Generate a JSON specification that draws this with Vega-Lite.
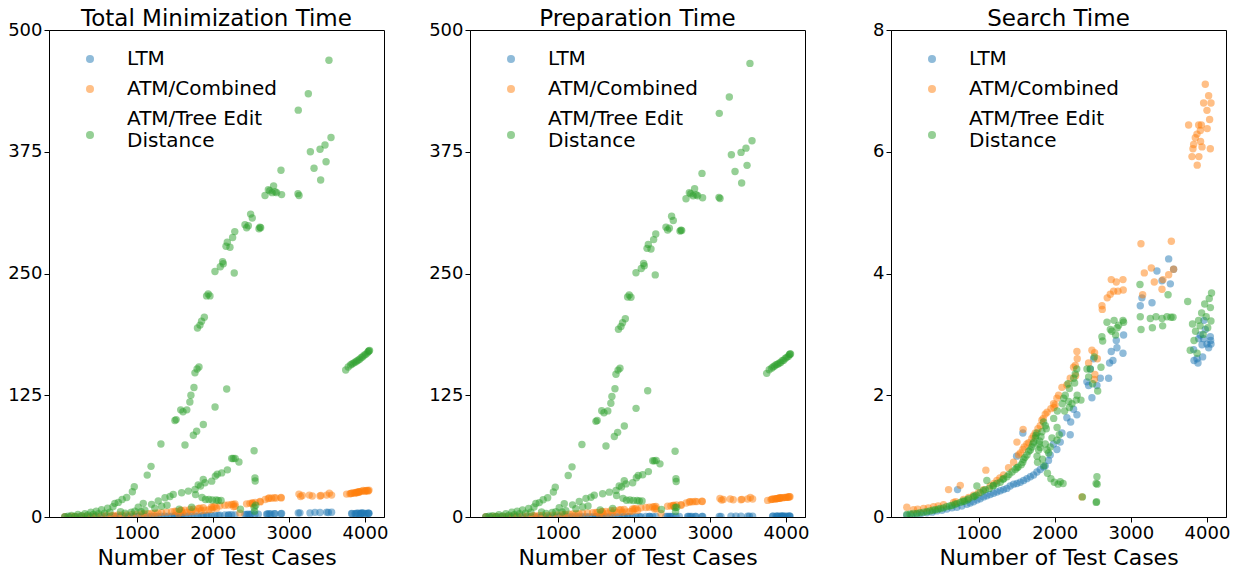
{
  "$schema": "https://vega.github.io/schema/vega-lite/v6.json",
  "background": "white",
  "padding": {"left": 7, "top": 7, "right": 5, "bottom": 1},
  "bounds": "flush",
  "spacing": 86,
  "config": {
    "font": "DejaVu Sans",
    "view": {"stroke": "black", "strokeWidth": 1},
    "axis": {"domainColor": "black", "tickColor": "black", "labelColor": "black", "titleColor": "black", "labelFont": "DejaVu Sans", "titleFont": "DejaVu Sans", "labelFontSize": 18, "titleFontSize": 22, "titleFontWeight": "normal", "tickSize": 5, "labelPadding": 2, "titlePadding": 5, "grid": false, "labelFlush": false},
    "title": {"font": "DejaVu Sans", "fontSize": 23, "fontWeight": "normal", "color": "black", "offset": -9.5, "frame": "group"},
    "legend": {"labelFont": "DejaVu Sans", "labelFontSize": 20, "labelColor": "black", "labelLimit": 400, "symbolSize": 64, "symbolType": "circle", "labelOffset": 27, "rowPadding": 10, "padding": 0}
  },
  "resolve": {"scale": {"y": "independent", "color": "independent"}, "legend": {"color": "independent"}},
  "data": {"values": [
    {"method":"LTM","n":58,"total":0.05,"prep":0.02,"search":0.03},
    {"method":"LTM","n":120,"total":0.07,"prep":0.03,"search":0.04},
    {"method":"LTM","n":190,"total":0.09,"prep":0.04,"search":0.05},
    {"method":"LTM","n":250,"total":0.11,"prep":0.05,"search":0.06},
    {"method":"LTM","n":321,"total":0.13,"prep":0.06,"search":0.07},
    {"method":"LTM","n":390,"total":0.15,"prep":0.07,"search":0.08},
    {"method":"LTM","n":452,"total":0.18,"prep":0.08,"search":0.1},
    {"method":"LTM","n":520,"total":0.2,"prep":0.09,"search":0.11},
    {"method":"LTM","n":584,"total":0.23,"prep":0.1,"search":0.13},
    {"method":"LTM","n":650,"total":0.26,"prep":0.11,"search":0.15},
    {"method":"LTM","n":715,"total":0.28,"prep":0.12,"search":0.16},
    {"method":"LTM","n":724,"total":0.57,"prep":0.12,"search":0.45},
    {"method":"LTM","n":780,"total":0.31,"prep":0.13,"search":0.18},
    {"method":"LTM","n":847,"total":0.35,"prep":0.14,"search":0.21},
    {"method":"LTM","n":890,"total":0.38,"prep":0.15,"search":0.23},
    {"method":"LTM","n":934,"total":0.41,"prep":0.16,"search":0.25},
    {"method":"LTM","n":980,"total":0.45,"prep":0.17,"search":0.28},
    {"method":"LTM","n":1022,"total":0.48,"prep":0.18,"search":0.3},
    {"method":"LTM","n":1066,"total":0.52,"prep":0.19,"search":0.33},
    {"method":"LTM","n":1109,"total":0.55,"prep":0.2,"search":0.35},
    {"method":"LTM","n":1153,"total":0.58,"prep":0.21,"search":0.37},
    {"method":"LTM","n":1197,"total":0.61,"prep":0.22,"search":0.39},
    {"method":"LTM","n":1241,"total":0.64,"prep":0.23,"search":0.41},
    {"method":"LTM","n":1285,"total":0.67,"prep":0.24,"search":0.43},
    {"method":"LTM","n":1329,"total":0.7,"prep":0.25,"search":0.45},
    {"method":"LTM","n":1372,"total":0.73,"prep":0.26,"search":0.47},
    {"method":"LTM","n":1416,"total":0.78,"prep":0.27,"search":0.51},
    {"method":"LTM","n":1460,"total":0.82,"prep":0.28,"search":0.54},
    {"method":"LTM","n":1500,"total":1.29,"prep":0.29,"search":1.0},
    {"method":"LTM","n":1504,"total":0.84,"prep":0.29,"search":0.55},
    {"method":"LTM","n":1548,"total":0.87,"prep":0.3,"search":0.57},
    {"method":"LTM","n":1582,"total":1.69,"prep":0.31,"search":1.38},
    {"method":"LTM","n":1592,"total":0.91,"prep":0.31,"search":0.6},
    {"method":"LTM","n":1635,"total":0.95,"prep":0.32,"search":0.63},
    {"method":"LTM","n":1680,"total":0.99,"prep":0.33,"search":0.66},
    {"method":"LTM","n":1723,"total":1.03,"prep":0.34,"search":0.69},
    {"method":"LTM","n":1767,"total":1.09,"prep":0.35,"search":0.74},
    {"method":"LTM","n":1810,"total":1.14,"prep":0.36,"search":0.78},
    {"method":"LTM","n":1854,"total":1.19,"prep":0.37,"search":0.82},
    {"method":"LTM","n":1876,"total":1.21,"prep":0.37,"search":0.84},
    {"method":"LTM","n":1919,"total":1.31,"prep":0.38,"search":0.93},
    {"method":"LTM","n":1941,"total":1.41,"prep":0.39,"search":1.02},
    {"method":"LTM","n":1985,"total":1.6,"prep":0.4,"search":1.2},
    {"method":"LTM","n":2029,"total":1.52,"prep":0.41,"search":1.11},
    {"method":"LTM","n":2073,"total":1.65,"prep":0.42,"search":1.23},
    {"method":"LTM","n":2095,"total":1.8,"prep":0.42,"search":1.38},
    {"method":"LTM","n":2160,"total":2.07,"prep":0.44,"search":1.63},
    {"method":"LTM","n":2204,"total":1.8,"prep":0.45,"search":1.35},
    {"method":"LTM","n":2210,"total":2.01,"prep":0.45,"search":1.56},
    {"method":"LTM","n":2248,"total":2.23,"prep":0.46,"search":1.77},
    {"method":"LTM","n":2292,"total":2.15,"prep":0.47,"search":1.68},
    {"method":"LTM","n":2423,"total":2.72,"prep":0.5,"search":2.22},
    {"method":"LTM","n":2445,"total":2.66,"prep":0.5,"search":2.16},
    {"method":"LTM","n":2467,"total":2.94,"prep":0.51,"search":2.43},
    {"method":"LTM","n":2489,"total":2.47,"prep":0.51,"search":1.96},
    {"method":"LTM","n":2511,"total":3.12,"prep":0.52,"search":2.6},
    {"method":"LTM","n":2555,"total":2.69,"prep":0.53,"search":2.16},
    {"method":"LTM","n":2599,"total":2.82,"prep":0.54,"search":2.28},
    {"method":"LTM","n":2708,"total":2.85,"prep":0.57,"search":2.28},
    {"method":"LTM","n":2721,"total":3.1,"prep":0.57,"search":2.53},
    {"method":"LTM","n":2743,"total":3.3,"prep":0.58,"search":2.72},
    {"method":"LTM","n":2765,"total":3.15,"prep":0.58,"search":2.57},
    {"method":"LTM","n":2809,"total":3.49,"prep":0.59,"search":2.9},
    {"method":"LTM","n":2818,"total":3.37,"prep":0.59,"search":2.78},
    {"method":"LTM","n":2897,"total":3.3,"prep":0.61,"search":2.69},
    {"method":"LTM","n":2905,"total":3.6,"prep":0.61,"search":2.99},
    {"method":"LTM","n":3124,"total":4.13,"prep":0.66,"search":3.47},
    {"method":"LTM","n":3146,"total":4.27,"prep":0.67,"search":3.6},
    {"method":"LTM","n":3278,"total":4.22,"prep":0.7,"search":3.52},
    {"method":"LTM","n":3343,"total":4.76,"prep":0.72,"search":4.04},
    {"method":"LTM","n":3409,"total":4.61,"prep":0.73,"search":3.88},
    {"method":"LTM","n":3497,"total":4.99,"prep":0.75,"search":4.24},
    {"method":"LTM","n":3519,"total":4.59,"prep":0.76,"search":3.83},
    {"method":"LTM","n":3562,"total":4.84,"prep":0.77,"search":4.07},
    {"method":"LTM","n":3825,"total":3.58,"prep":0.83,"search":2.75},
    {"method":"LTM","n":3830,"total":3.4,"prep":0.83,"search":2.57},
    {"method":"LTM","n":3869,"total":3.44,"prep":0.84,"search":2.6},
    {"method":"LTM","n":3882,"total":3.37,"prep":0.84,"search":2.53},
    {"method":"LTM","n":3891,"total":3.78,"prep":0.85,"search":2.93},
    {"method":"LTM","n":3913,"total":3.84,"prep":0.85,"search":2.99},
    {"method":"LTM","n":3935,"total":3.69,"prep":0.86,"search":2.83},
    {"method":"LTM","n":3943,"total":3.49,"prep":0.86,"search":2.63},
    {"method":"LTM","n":3956,"total":3.79,"prep":0.86,"search":2.93},
    {"method":"LTM","n":3960,"total":4.09,"prep":0.86,"search":3.23},
    {"method":"LTM","n":3978,"total":3.95,"prep":0.87,"search":3.08},
    {"method":"LTM","n":4000,"total":3.71,"prep":0.87,"search":2.84},
    {"method":"LTM","n":4022,"total":3.66,"prep":0.88,"search":2.78},
    {"method":"LTM","n":4044,"total":3.84,"prep":0.88,"search":2.96},
    {"method":"LTM","n":4048,"total":3.78,"prep":0.88,"search":2.9},
    {"method":"LTM","n":4053,"total":3.73,"prep":0.89,"search":2.84},
    {"method":"ATM/Combined","n":58,"total":0.4,"prep":0.24,"search":0.16},
    {"method":"ATM/Combined","n":146,"total":0.5,"prep":0.38,"search":0.12},
    {"method":"ATM/Combined","n":200,"total":0.6,"prep":0.47,"search":0.13},
    {"method":"ATM/Combined","n":278,"total":0.7,"prep":0.56,"search":0.14},
    {"method":"ATM/Combined","n":340,"total":0.8,"prep":0.65,"search":0.15},
    {"method":"ATM/Combined","n":409,"total":0.9,"prep":0.73,"search":0.17},
    {"method":"ATM/Combined","n":470,"total":1.0,"prep":0.82,"search":0.18},
    {"method":"ATM/Combined","n":540,"total":1.1,"prep":0.9,"search":0.2},
    {"method":"ATM/Combined","n":606,"total":1.5,"prep":1.05,"search":0.45},
    {"method":"ATM/Combined","n":672,"total":1.4,"prep":1.16,"search":0.24},
    {"method":"ATM/Combined","n":700,"total":1.5,"prep":1.25,"search":0.25},
    {"method":"ATM/Combined","n":760,"total":2.0,"prep":1.48,"search":0.52},
    {"method":"ATM/Combined","n":803,"total":1.8,"prep":1.51,"search":0.29},
    {"method":"ATM/Combined","n":870,"total":2.0,"prep":1.68,"search":0.32},
    {"method":"ATM/Combined","n":934,"total":2.3,"prep":1.94,"search":0.36},
    {"method":"ATM/Combined","n":1000,"total":2.6,"prep":2.2,"search":0.4},
    {"method":"ATM/Combined","n":1066,"total":3.0,"prep":2.55,"search":0.45},
    {"method":"ATM/Combined","n":1096,"total":3.4,"prep":2.63,"search":0.77},
    {"method":"ATM/Combined","n":1153,"total":3.4,"prep":2.89,"search":0.51},
    {"method":"ATM/Combined","n":1200,"total":3.6,"prep":3.05,"search":0.55},
    {"method":"ATM/Combined","n":1241,"total":3.9,"prep":3.3,"search":0.6},
    {"method":"ATM/Combined","n":1280,"total":4.1,"prep":3.46,"search":0.64},
    {"method":"ATM/Combined","n":1329,"total":4.5,"prep":3.81,"search":0.69},
    {"method":"ATM/Combined","n":1394,"total":5.0,"prep":4.19,"search":0.81},
    {"method":"ATM/Combined","n":1460,"total":5.4,"prep":4.5,"search":0.9},
    {"method":"ATM/Combined","n":1504,"total":6.0,"prep":4.77,"search":1.23},
    {"method":"ATM/Combined","n":1526,"total":5.8,"prep":4.78,"search":1.02},
    {"method":"ATM/Combined","n":1550,"total":3.5,"prep":2.45,"search":1.05},
    {"method":"ATM/Combined","n":1582,"total":6.5,"prep":5.39,"search":1.11},
    {"method":"ATM/Combined","n":1585,"total":7.0,"prep":5.56,"search":1.44},
    {"method":"ATM/Combined","n":1600,"total":4.5,"prep":3.35,"search":1.15},
    {"method":"ATM/Combined","n":1635,"total":7.0,"prep":5.8,"search":1.2},
    {"method":"ATM/Combined","n":1660,"total":5.0,"prep":3.78,"search":1.22},
    {"method":"ATM/Combined","n":1700,"total":7.8,"prep":6.51,"search":1.29},
    {"method":"ATM/Combined","n":1720,"total":5.5,"prep":4.17,"search":1.33},
    {"method":"ATM/Combined","n":1745,"total":8.0,"prep":6.62,"search":1.38},
    {"method":"ATM/Combined","n":1780,"total":6.0,"prep":4.55,"search":1.45},
    {"method":"ATM/Combined","n":1810,"total":8.8,"prep":7.3,"search":1.5},
    {"method":"ATM/Combined","n":1832,"total":9.0,"prep":7.41,"search":1.59},
    {"method":"ATM/Combined","n":1850,"total":6.5,"prep":4.88,"search":1.62},
    {"method":"ATM/Combined","n":1876,"total":9.5,"prep":7.81,"search":1.69},
    {"method":"ATM/Combined","n":1900,"total":7.0,"prep":5.28,"search":1.72},
    {"method":"ATM/Combined","n":1950,"total":7.5,"prep":5.72,"search":1.78},
    {"method":"ATM/Combined","n":1985,"total":10.2,"prep":8.34,"search":1.86},
    {"method":"ATM/Combined","n":1990,"total":8.0,"prep":6.2,"search":1.8},
    {"method":"ATM/Combined","n":2006,"total":10.0,"prep":8.16,"search":1.84},
    {"method":"ATM/Combined","n":2029,"total":10.8,"prep":8.85,"search":1.95},
    {"method":"ATM/Combined","n":2051,"total":9.0,"prep":7.0,"search":2.0},
    {"method":"ATM/Combined","n":2095,"total":11.5,"prep":9.37,"search":2.13},
    {"method":"ATM/Combined","n":2160,"total":12.0,"prep":9.83,"search":2.17},
    {"method":"ATM/Combined","n":2204,"total":12.3,"prep":10.02,"search":2.28},
    {"method":"ATM/Combined","n":2248,"total":12.8,"prep":10.34,"search":2.46},
    {"method":"ATM/Combined","n":2270,"total":13.0,"prep":10.51,"search":2.49},
    {"method":"ATM/Combined","n":2275,"total":10.5,"prep":8.18,"search":2.32},
    {"method":"ATM/Combined","n":2292,"total":13.5,"prep":10.78,"search":2.72},
    {"method":"ATM/Combined","n":2296,"total":11.0,"prep":8.4,"search":2.6},
    {"method":"ATM/Combined","n":2358,"total":4.0,"prep":3.67,"search":0.33},
    {"method":"ATM/Combined","n":2445,"total":13.5,"prep":10.97,"search":2.53},
    {"method":"ATM/Combined","n":2489,"total":14.0,"prep":11.26,"search":2.74},
    {"method":"ATM/Combined","n":2520,"total":14.2,"prep":11.94,"search":2.26},
    {"method":"ATM/Combined","n":2524,"total":14.5,"prep":11.8,"search":2.7},
    {"method":"ATM/Combined","n":2528,"total":13.0,"prep":10.66,"search":2.34},
    {"method":"ATM/Combined","n":2560,"total":15.0,"prep":12.4,"search":2.6},
    {"method":"ATM/Combined","n":2621,"total":16.0,"prep":12.53,"search":3.47},
    {"method":"ATM/Combined","n":2625,"total":15.5,"prep":12.09,"search":3.41},
    {"method":"ATM/Combined","n":2690,"total":18.0,"prep":14.4,"search":3.6},
    {"method":"ATM/Combined","n":2730,"total":19.0,"prep":15.34,"search":3.66},
    {"method":"ATM/Combined","n":2743,"total":19.5,"prep":15.6,"search":3.9},
    {"method":"ATM/Combined","n":2774,"total":19.3,"prep":15.59,"search":3.71},
    {"method":"ATM/Combined","n":2809,"total":19.8,"prep":15.94,"search":3.86},
    {"method":"ATM/Combined","n":2831,"total":19.5,"prep":15.79,"search":3.71},
    {"method":"ATM/Combined","n":2897,"total":20.0,"prep":16.1,"search":3.9},
    {"method":"ATM/Combined","n":2900,"total":19.6,"prep":15.87,"search":3.73},
    {"method":"ATM/Combined","n":3133,"total":23.5,"prep":19.01,"search":4.49},
    {"method":"ATM/Combined","n":3155,"total":21.0,"prep":17.35,"search":3.65},
    {"method":"ATM/Combined","n":3177,"total":22.0,"prep":17.99,"search":4.01},
    {"method":"ATM/Combined","n":3269,"total":22.5,"prep":18.41,"search":4.09},
    {"method":"ATM/Combined","n":3308,"total":21.5,"prep":17.64,"search":3.86},
    {"method":"ATM/Combined","n":3409,"total":21.5,"prep":17.76,"search":3.74},
    {"method":"ATM/Combined","n":3422,"total":22.0,"prep":18.1,"search":3.9},
    {"method":"ATM/Combined","n":3497,"total":22.5,"prep":18.52,"search":3.98},
    {"method":"ATM/Combined","n":3532,"total":24.5,"prep":19.97,"search":4.53},
    {"method":"ATM/Combined","n":3562,"total":22.5,"prep":18.43,"search":4.07},
    {"method":"ATM/Combined","n":3759,"total":23.5,"prep":17.06,"search":6.44},
    {"method":"ATM/Combined","n":3803,"total":23.8,"prep":17.88,"search":5.92},
    {"method":"ATM/Combined","n":3816,"total":24.2,"prep":18.15,"search":6.05},
    {"method":"ATM/Combined","n":3825,"total":24.4,"prep":18.28,"search":6.12},
    {"method":"ATM/Combined","n":3847,"total":24.8,"prep":18.57,"search":6.23},
    {"method":"ATM/Combined","n":3869,"total":25.0,"prep":18.71,"search":6.29},
    {"method":"ATM/Combined","n":3872,"total":24.5,"prep":18.72,"search":5.78},
    {"method":"ATM/Combined","n":3891,"total":25.5,"prep":19.06,"search":6.44},
    {"method":"ATM/Combined","n":3894,"total":25.0,"prep":19.08,"search":5.92},
    {"method":"ATM/Combined","n":3913,"total":25.8,"prep":19.45,"search":6.35},
    {"method":"ATM/Combined","n":3916,"total":25.5,"prep":19.33,"search":6.17},
    {"method":"ATM/Combined","n":3926,"total":26.0,"prep":19.56,"search":6.44},
    {"method":"ATM/Combined","n":3935,"total":25.8,"prep":19.72,"search":6.08},
    {"method":"ATM/Combined","n":3956,"total":26.6,"prep":19.8,"search":6.8},
    {"method":"ATM/Combined","n":3978,"total":27.2,"prep":20.09,"search":7.11},
    {"method":"ATM/Combined","n":4000,"total":26.8,"prep":20.12,"search":6.68},
    {"method":"ATM/Combined","n":4003,"total":26.5,"prep":20.12,"search":6.38},
    {"method":"ATM/Combined","n":4022,"total":27.3,"prep":20.38,"search":6.92},
    {"method":"ATM/Combined","n":4035,"total":27.0,"prep":20.47,"search":6.53},
    {"method":"ATM/Combined","n":4044,"total":26.8,"prep":20.75,"search":6.05},
    {"method":"ATM/Combined","n":4053,"total":27.6,"prep":20.8,"search":6.8},
    {"method":"ATM/Tree Edit Distance","n":58,"total":0.3,"prep":0.26,"search":0.04},
    {"method":"ATM/Tree Edit Distance","n":100,"total":0.8,"prep":0.75,"search":0.05},
    {"method":"ATM/Tree Edit Distance","n":146,"total":1.5,"prep":1.44,"search":0.06},
    {"method":"ATM/Tree Edit Distance","n":190,"total":0.6,"prep":0.54,"search":0.06},
    {"method":"ATM/Tree Edit Distance","n":230,"total":2.5,"prep":2.43,"search":0.07},
    {"method":"ATM/Tree Edit Distance","n":278,"total":1.2,"prep":1.12,"search":0.08},
    {"method":"ATM/Tree Edit Distance","n":321,"total":3.5,"prep":3.41,"search":0.09},
    {"method":"ATM/Tree Edit Distance","n":360,"total":2.0,"prep":1.9,"search":0.1},
    {"method":"ATM/Tree Edit Distance","n":400,"total":5.0,"prep":4.89,"search":0.11},
    {"method":"ATM/Tree Edit Distance","n":431,"total":2.5,"prep":2.38,"search":0.12},
    {"method":"ATM/Tree Edit Distance","n":470,"total":6.0,"prep":5.87,"search":0.13},
    {"method":"ATM/Tree Edit Distance","n":500,"total":3.5,"prep":3.36,"search":0.14},
    {"method":"ATM/Tree Edit Distance","n":540,"total":7.5,"prep":7.35,"search":0.15},
    {"method":"ATM/Tree Edit Distance","n":580,"total":4.0,"prep":3.83,"search":0.17},
    {"method":"ATM/Tree Edit Distance","n":620,"total":9.0,"prep":8.82,"search":0.18},
    {"method":"ATM/Tree Edit Distance","n":650,"total":5.0,"prep":4.81,"search":0.19},
    {"method":"ATM/Tree Edit Distance","n":690,"total":10.5,"prep":10.29,"search":0.21},
    {"method":"ATM/Tree Edit Distance","n":715,"total":14.0,"prep":13.78,"search":0.22},
    {"method":"ATM/Tree Edit Distance","n":760,"total":15.0,"prep":14.76,"search":0.24},
    {"method":"ATM/Tree Edit Distance","n":790,"total":5.5,"prep":5.24,"search":0.26},
    {"method":"ATM/Tree Edit Distance","n":811,"total":18.0,"prep":17.74,"search":0.26},
    {"method":"ATM/Tree Edit Distance","n":850,"total":4.0,"prep":3.72,"search":0.28},
    {"method":"ATM/Tree Edit Distance","n":870,"total":20.0,"prep":19.7,"search":0.3},
    {"method":"ATM/Tree Edit Distance","n":930,"total":5.0,"prep":4.67,"search":0.33},
    {"method":"ATM/Tree Edit Distance","n":945,"total":26.0,"prep":25.66,"search":0.34},
    {"method":"ATM/Tree Edit Distance","n":970,"total":31.0,"prep":30.64,"search":0.36},
    {"method":"ATM/Tree Edit Distance","n":978,"total":6.0,"prep":5.49,"search":0.51},
    {"method":"ATM/Tree Edit Distance","n":1022,"total":10.0,"prep":9.6,"search":0.4},
    {"method":"ATM/Tree Edit Distance","n":1060,"total":5.5,"prep":5.07,"search":0.43},
    {"method":"ATM/Tree Edit Distance","n":1088,"total":14.0,"prep":13.55,"search":0.45},
    {"method":"ATM/Tree Edit Distance","n":1109,"total":7.0,"prep":6.4,"search":0.6},
    {"method":"ATM/Tree Edit Distance","n":1140,"total":43.0,"prep":42.53,"search":0.47},
    {"method":"ATM/Tree Edit Distance","n":1190,"total":52.0,"prep":51.49,"search":0.51},
    {"method":"ATM/Tree Edit Distance","n":1197,"total":13.0,"prep":12.48,"search":0.52},
    {"method":"ATM/Tree Edit Distance","n":1240,"total":9.0,"prep":8.45,"search":0.55},
    {"method":"ATM/Tree Edit Distance","n":1285,"total":16.4,"prep":15.83,"search":0.57},
    {"method":"ATM/Tree Edit Distance","n":1320,"total":75.0,"prep":74.38,"search":0.62},
    {"method":"ATM/Tree Edit Distance","n":1330,"total":11.0,"prep":10.37,"search":0.63},
    {"method":"ATM/Tree Edit Distance","n":1373,"total":19.8,"prep":19.14,"search":0.66},
    {"method":"ATM/Tree Edit Distance","n":1400,"total":12.0,"prep":11.3,"search":0.7},
    {"method":"ATM/Tree Edit Distance","n":1440,"total":21.0,"prep":20.26,"search":0.74},
    {"method":"ATM/Tree Edit Distance","n":1482,"total":23.2,"prep":22.42,"search":0.78},
    {"method":"ATM/Tree Edit Distance","n":1504,"total":99.0,"prep":98.19,"search":0.81},
    {"method":"ATM/Tree Edit Distance","n":1520,"total":100.0,"prep":99.18,"search":0.82},
    {"method":"ATM/Tree Edit Distance","n":1560,"total":8.0,"prep":7.14,"search":0.86},
    {"method":"ATM/Tree Edit Distance","n":1580,"total":110.0,"prep":109.1,"search":0.9},
    {"method":"ATM/Tree Edit Distance","n":1592,"total":24.9,"prep":23.95,"search":0.95},
    {"method":"ATM/Tree Edit Distance","n":1610,"total":108.0,"prep":107.02,"search":0.98},
    {"method":"ATM/Tree Edit Distance","n":1636,"total":74.0,"prep":72.98,"search":1.02},
    {"method":"ATM/Tree Edit Distance","n":1660,"total":110.0,"prep":108.92,"search":1.08},
    {"method":"ATM/Tree Edit Distance","n":1680,"total":26.6,"prep":25.5,"search":1.1},
    {"method":"ATM/Tree Edit Distance","n":1700,"total":118.0,"prep":116.85,"search":1.15},
    {"method":"ATM/Tree Edit Distance","n":1714,"total":125.0,"prep":123.8,"search":1.2},
    {"method":"ATM/Tree Edit Distance","n":1724,"total":10.0,"prep":8.77,"search":1.23},
    {"method":"ATM/Tree Edit Distance","n":1746,"total":84.0,"prep":82.7,"search":1.3},
    {"method":"ATM/Tree Edit Distance","n":1754,"total":133.0,"prep":131.66,"search":1.34},
    {"method":"ATM/Tree Edit Distance","n":1767,"total":148.0,"prep":146.62,"search":1.38},
    {"method":"ATM/Tree Edit Distance","n":1768,"total":28.3,"prep":27.3,"search":1.0},
    {"method":"ATM/Tree Edit Distance","n":1775,"total":23.0,"prep":22.1,"search":0.9},
    {"method":"ATM/Tree Edit Distance","n":1789,"total":88.0,"prep":86.9,"search":1.1},
    {"method":"ATM/Tree Edit Distance","n":1795,"total":152.0,"prep":150.8,"search":1.2},
    {"method":"ATM/Tree Edit Distance","n":1800,"total":194.0,"prep":192.75,"search":1.25},
    {"method":"ATM/Tree Edit Distance","n":1810,"total":33.0,"prep":31.86,"search":1.14},
    {"method":"ATM/Tree Edit Distance","n":1820,"total":154.0,"prep":152.68,"search":1.32},
    {"method":"ATM/Tree Edit Distance","n":1833,"total":197.0,"prep":195.6,"search":1.4},
    {"method":"ATM/Tree Edit Distance","n":1840,"total":31.7,"prep":30.75,"search":0.95},
    {"method":"ATM/Tree Edit Distance","n":1854,"total":201.0,"prep":199.44,"search":1.56},
    {"method":"ATM/Tree Edit Distance","n":1860,"total":20.0,"prep":19.16,"search":0.84},
    {"method":"ATM/Tree Edit Distance","n":1876,"total":38.5,"prep":37.3,"search":1.2},
    {"method":"ATM/Tree Edit Distance","n":1877,"total":95.0,"prep":93.5,"search":1.5},
    {"method":"ATM/Tree Edit Distance","n":1890,"total":205.0,"prep":203.55,"search":1.45},
    {"method":"ATM/Tree Edit Distance","n":1899,"total":35.1,"prep":34.0,"search":1.1},
    {"method":"ATM/Tree Edit Distance","n":1905,"total":18.0,"prep":17.28,"search":0.72},
    {"method":"ATM/Tree Edit Distance","n":1920,"total":227.0,"prep":225.95,"search":1.05},
    {"method":"ATM/Tree Edit Distance","n":1941,"total":229.0,"prep":227.85,"search":1.15},
    {"method":"ATM/Tree Edit Distance","n":1950,"total":18.0,"prep":17.37,"search":0.63},
    {"method":"ATM/Tree Edit Distance","n":1964,"total":227.0,"prep":225.7,"search":1.3},
    {"method":"ATM/Tree Edit Distance","n":1987,"total":36.8,"prep":35.18,"search":1.62},
    {"method":"ATM/Tree Edit Distance","n":1995,"total":17.5,"prep":16.93,"search":0.57},
    {"method":"ATM/Tree Edit Distance","n":2031,"total":113.0,"prep":111.53,"search":1.47},
    {"method":"ATM/Tree Edit Distance","n":2030,"total":252.0,"prep":250.74,"search":1.26},
    {"method":"ATM/Tree Edit Distance","n":2035,"total":42.0,"prep":40.26,"search":1.74},
    {"method":"ATM/Tree Edit Distance","n":2045,"total":17.5,"prep":16.96,"search":0.54},
    {"method":"ATM/Tree Edit Distance","n":2060,"total":44.0,"prep":42.65,"search":1.35},
    {"method":"ATM/Tree Edit Distance","n":2073,"total":17.0,"prep":16.42,"search":0.58},
    {"method":"ATM/Tree Edit Distance","n":2100,"total":257.0,"prep":255.14,"search":1.86},
    {"method":"ATM/Tree Edit Distance","n":2110,"total":17.0,"prep":16.45,"search":0.55},
    {"method":"ATM/Tree Edit Distance","n":2118,"total":45.3,"prep":43.35,"search":1.95},
    {"method":"ATM/Tree Edit Distance","n":2130,"total":262.0,"prep":260.26,"search":1.74},
    {"method":"ATM/Tree Edit Distance","n":2139,"total":260.0,"prep":258.0,"search":2.0},
    {"method":"ATM/Tree Edit Distance","n":2175,"total":278.0,"prep":275.81,"search":2.19},
    {"method":"ATM/Tree Edit Distance","n":2184,"total":131.5,"prep":129.6,"search":1.9},
    {"method":"ATM/Tree Edit Distance","n":2192,"total":282.0,"prep":279.89,"search":2.11},
    {"method":"ATM/Tree Edit Distance","n":2193,"total":48.4,"prep":46.6,"search":1.8},
    {"method":"ATM/Tree Edit Distance","n":2227,"total":277.0,"prep":275.14,"search":1.86},
    {"method":"ATM/Tree Edit Distance","n":2250,"total":60.0,"prep":57.72,"search":2.28},
    {"method":"ATM/Tree Edit Distance","n":2262,"total":287.0,"prep":284.8,"search":2.2},
    {"method":"ATM/Tree Edit Distance","n":2270,"total":60.0,"prep":57.65,"search":2.35},
    {"method":"ATM/Tree Edit Distance","n":2283,"total":250.5,"prep":248.58,"search":1.92},
    {"method":"ATM/Tree Edit Distance","n":2290,"total":293.0,"prep":290.57,"search":2.43},
    {"method":"ATM/Tree Edit Distance","n":2295,"total":60.0,"prep":58.0,"search":2.0},
    {"method":"ATM/Tree Edit Distance","n":2345,"total":56.5,"prep":54.58,"search":1.92},
    {"method":"ATM/Tree Edit Distance","n":2364,"total":8.0,"prep":7.67,"search":0.33},
    {"method":"ATM/Tree Edit Distance","n":2424,"total":300.0,"prep":297.57,"search":2.43},
    {"method":"ATM/Tree Edit Distance","n":2446,"total":297.0,"prep":294.7,"search":2.3},
    {"method":"ATM/Tree Edit Distance","n":2468,"total":299.0,"prep":296.57,"search":2.43},
    {"method":"ATM/Tree Edit Distance","n":2498,"total":311.0,"prep":308.81,"search":2.19},
    {"method":"ATM/Tree Edit Distance","n":2520,"total":307.0,"prep":304.37,"search":2.63},
    {"method":"ATM/Tree Edit Distance","n":2544,"total":68.0,"prep":67.45,"search":0.55},
    {"method":"ATM/Tree Edit Distance","n":2545,"total":10.0,"prep":9.76,"search":0.24},
    {"method":"ATM/Tree Edit Distance","n":2550,"total":6.0,"prep":5.75,"search":0.25},
    {"method":"ATM/Tree Edit Distance","n":2555,"total":40.0,"prep":39.34,"search":0.66},
    {"method":"ATM/Tree Edit Distance","n":2558,"total":37.0,"prep":36.46,"search":0.54},
    {"method":"ATM/Tree Edit Distance","n":2565,"total":12.0,"prep":9.93,"search":2.07},
    {"method":"ATM/Tree Edit Distance","n":2608,"total":296.0,"prep":293.54,"search":2.46},
    {"method":"ATM/Tree Edit Distance","n":2620,"total":297.5,"prep":294.54,"search":2.96},
    {"method":"ATM/Tree Edit Distance","n":2630,"total":297.0,"prep":294.11,"search":2.89},
    {"method":"ATM/Tree Edit Distance","n":2687,"total":330.0,"prep":326.8,"search":3.2},
    {"method":"ATM/Tree Edit Distance","n":2731,"total":336.0,"prep":332.92,"search":3.08},
    {"method":"ATM/Tree Edit Distance","n":2750,"total":335.0,"prep":331.95,"search":3.05},
    {"method":"ATM/Tree Edit Distance","n":2780,"total":333.0,"prep":329.77,"search":3.23},
    {"method":"ATM/Tree Edit Distance","n":2800,"total":340.0,"prep":337.01,"search":2.99},
    {"method":"ATM/Tree Edit Distance","n":2820,"total":334.0,"prep":330.89,"search":3.11},
    {"method":"ATM/Tree Edit Distance","n":2840,"total":333.0,"prep":329.85,"search":3.15},
    {"method":"ATM/Tree Edit Distance","n":2897,"total":356.0,"prep":352.77,"search":3.23},
    {"method":"ATM/Tree Edit Distance","n":2905,"total":331.0,"prep":327.8,"search":3.2},
    {"method":"ATM/Tree Edit Distance","n":3120,"total":332.0,"prep":328.18,"search":3.82},
    {"method":"ATM/Tree Edit Distance","n":3124,"total":417.7,"prep":414.41,"search":3.29},
    {"method":"ATM/Tree Edit Distance","n":3134,"total":330.0,"prep":326.92,"search":3.08},
    {"method":"ATM/Tree Edit Distance","n":3256,"total":434.5,"prep":431.24,"search":3.26},
    {"method":"ATM/Tree Edit Distance","n":3283,"total":375.0,"prep":371.89,"search":3.11},
    {"method":"ATM/Tree Edit Distance","n":3331,"total":358.0,"prep":354.71,"search":3.29},
    {"method":"ATM/Tree Edit Distance","n":3410,"total":377.6,"prep":374.34,"search":3.26},
    {"method":"ATM/Tree Edit Distance","n":3418,"total":346.0,"prep":342.86,"search":3.14},
    {"method":"ATM/Tree Edit Distance","n":3475,"total":382.0,"prep":378.71,"search":3.29},
    {"method":"ATM/Tree Edit Distance","n":3489,"total":364.7,"prep":361.05,"search":3.65},
    {"method":"ATM/Tree Edit Distance","n":3527,"total":469.0,"prep":465.72,"search":3.28},
    {"method":"ATM/Tree Edit Distance","n":3554,"total":389.6,"prep":386.32,"search":3.28},
    {"method":"ATM/Tree Edit Distance","n":3747,"total":151.0,"prep":147.46,"search":3.54},
    {"method":"ATM/Tree Edit Distance","n":3780,"total":154.0,"prep":151.26,"search":2.74},
    {"method":"ATM/Tree Edit Distance","n":3810,"total":156.0,"prep":152.83,"search":3.17},
    {"method":"ATM/Tree Edit Distance","n":3830,"total":157.0,"prep":154.1,"search":2.9},
    {"method":"ATM/Tree Edit Distance","n":3850,"total":158.0,"prep":154.95,"search":3.05},
    {"method":"ATM/Tree Edit Distance","n":3870,"total":159.0,"prep":156.31,"search":2.69},
    {"method":"ATM/Tree Edit Distance","n":3890,"total":160.0,"prep":156.77,"search":3.23},
    {"method":"ATM/Tree Edit Distance","n":3910,"total":161.0,"prep":157.86,"search":3.14},
    {"method":"ATM/Tree Edit Distance","n":3930,"total":162.0,"prep":158.65,"search":3.35},
    {"method":"ATM/Tree Edit Distance","n":3950,"total":163.5,"prep":160.5,"search":3.0},
    {"method":"ATM/Tree Edit Distance","n":3970,"total":164.5,"prep":161.0,"search":3.5},
    {"method":"ATM/Tree Edit Distance","n":3990,"total":166.0,"prep":162.71,"search":3.29},
    {"method":"ATM/Tree Edit Distance","n":4010,"total":167.0,"prep":163.89,"search":3.11},
    {"method":"ATM/Tree Edit Distance","n":4030,"total":168.5,"prep":164.91,"search":3.59},
    {"method":"ATM/Tree Edit Distance","n":4045,"total":170.0,"prep":166.56,"search":3.44},
    {"method":"ATM/Tree Edit Distance","n":4052,"total":170.5,"prep":167.28,"search":3.22},
    {"method":"ATM/Tree Edit Distance","n":4060,"total":171.0,"prep":167.32,"search":3.68}
  ]},
  "hconcat": [
    {
      "width": 335, "height": 487,
      "title": "Total Minimization Time",
      "mark": {"type": "circle", "size": 55, "opacity": 0.5, "clip": true},
      "encoding": {
        "x": {"field": "n", "type": "quantitative", "scale": {"domain": [-150, 4250], "nice": false, "zero": false}, "axis": {"values": [1000, 2000, 3000, 4000], "format": "d", "title": "Number of Test Cases"}},
        "y": {"field": "total", "type": "quantitative", "scale": {"domain": [0, 500], "nice": false}, "axis": {"values": [0, 125, 250, 375, 500], "title": null}},
        "color": {"field": "method", "type": "nominal", "scale": {"domain": ["LTM", "ATM/Combined", "ATM/Tree Edit Distance"], "range": ["#1f77b4", "#ff7f0e", "#2ca02c"]}, "legend": {"title": null, "orient": "none", "legendX": 31, "legendY": 19, "labelExpr": "datum.label == 'ATM/Tree Edit Distance' ? ['ATM/Tree Edit', 'Distance'] : datum.label", "encoding": {"labels": {"dy": {"value": {"expr": "datum.value == 'ATM/Tree Edit Distance' ? -16 : 0"}}}}}}
      }
    },
    {
      "width": 335, "height": 487,
      "title": "Preparation Time",
      "mark": {"type": "circle", "size": 55, "opacity": 0.5, "clip": true},
      "encoding": {
        "x": {"field": "n", "type": "quantitative", "scale": {"domain": [-150, 4250], "nice": false, "zero": false}, "axis": {"values": [1000, 2000, 3000, 4000], "format": "d", "title": "Number of Test Cases"}},
        "y": {"field": "prep", "type": "quantitative", "scale": {"domain": [0, 500], "nice": false}, "axis": {"values": [0, 125, 250, 375, 500], "title": null}},
        "color": {"field": "method", "type": "nominal", "scale": {"domain": ["LTM", "ATM/Combined", "ATM/Tree Edit Distance"], "range": ["#1f77b4", "#ff7f0e", "#2ca02c"]}, "legend": {"title": null, "orient": "none", "legendX": 31, "legendY": 19, "labelExpr": "datum.label == 'ATM/Tree Edit Distance' ? ['ATM/Tree Edit', 'Distance'] : datum.label", "encoding": {"labels": {"dy": {"value": {"expr": "datum.value == 'ATM/Tree Edit Distance' ? -16 : 0"}}}}}}
      }
    },
    {
      "width": 335, "height": 487,
      "title": "Search Time",
      "mark": {"type": "circle", "size": 55, "opacity": 0.5, "clip": true},
      "encoding": {
        "x": {"field": "n", "type": "quantitative", "scale": {"domain": [-150, 4250], "nice": false, "zero": false}, "axis": {"values": [1000, 2000, 3000, 4000], "format": "d", "title": "Number of Test Cases"}},
        "y": {"field": "search", "type": "quantitative", "scale": {"domain": [0, 8], "nice": false}, "axis": {"values": [0, 2, 4, 6, 8], "title": null}},
        "color": {"field": "method", "type": "nominal", "scale": {"domain": ["LTM", "ATM/Combined", "ATM/Tree Edit Distance"], "range": ["#1f77b4", "#ff7f0e", "#2ca02c"]}, "legend": {"title": null, "orient": "none", "legendX": 31, "legendY": 19, "labelExpr": "datum.label == 'ATM/Tree Edit Distance' ? ['ATM/Tree Edit', 'Distance'] : datum.label", "encoding": {"labels": {"dy": {"value": {"expr": "datum.value == 'ATM/Tree Edit Distance' ? -16 : 0"}}}}}}
      }
    }
  ]
}
